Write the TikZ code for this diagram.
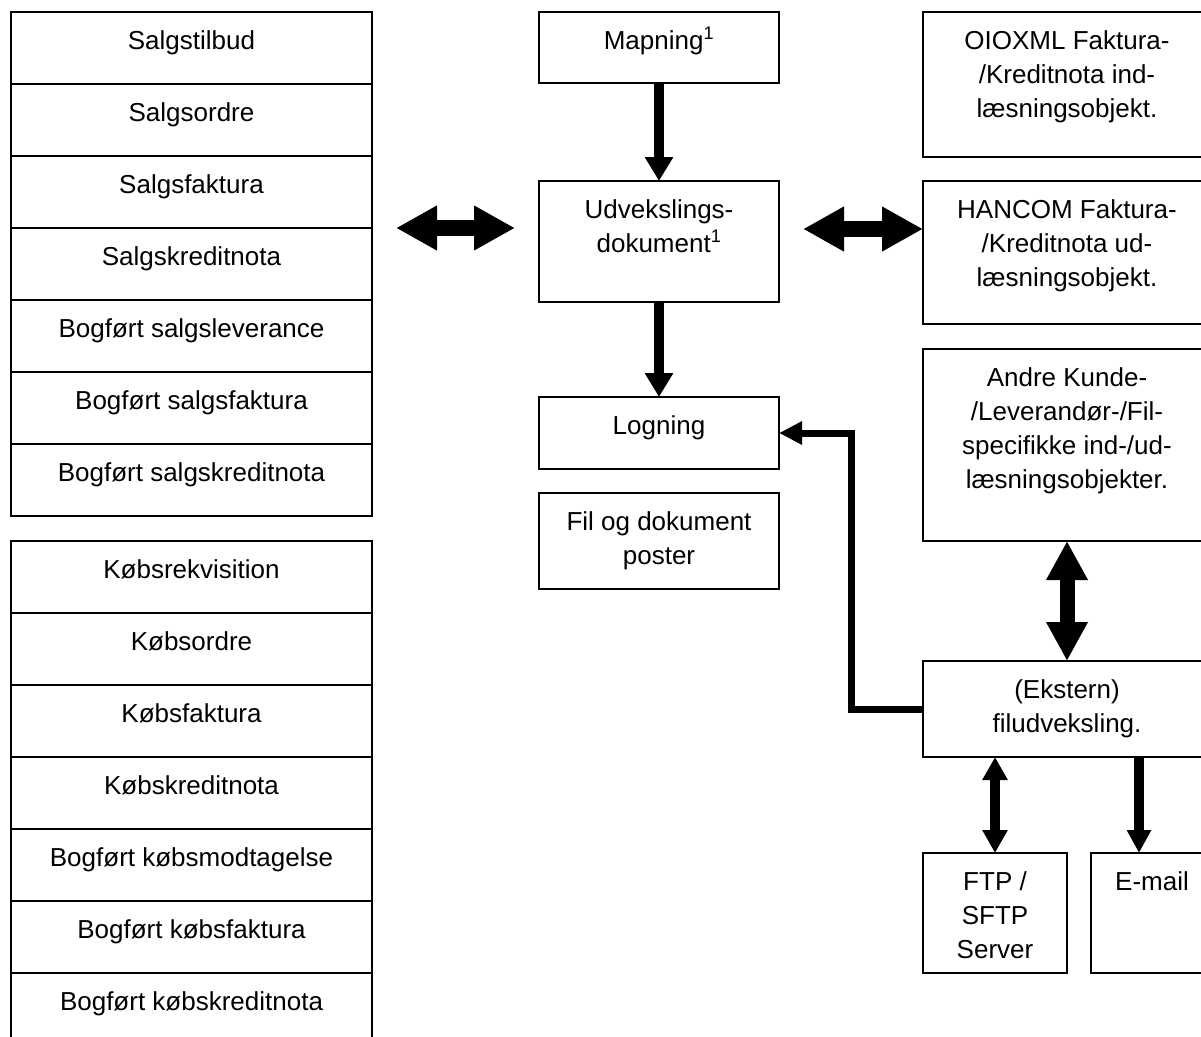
\documentclass[tikz,border=0pt]{standalone}
\usepackage{fontspec}
\setmainfont{Liberation Sans}
\usetikzlibrary{arrows.meta}
\newcommand\boxtxt[3]{\begin{minipage}[c][#2][t]{#1}\centering\fontsize{26}{34}\selectfont\rule{0pt}{37pt}#3\end{minipage}}
\tikzset{
  bx/.style={draw, line width=1.2pt, inner sep=0pt, outer sep=0pt},
  singlearrow/.style={line width=10pt, -{Triangle[length=24pt,width=27pt]}},
  smalldbl/.style={line width=10pt, {Triangle[length=23pt,width=24pt]}-{Triangle[length=23pt,width=24pt]}},
  bigdbl/.style={line width=16pt, {Triangle[length=41pt,width=42pt]}-{Triangle[length=41pt,width=42pt]}},
  vertdbl/.style={line width=15pt, {Triangle[length=39pt,width=39pt]}-{Triangle[length=39pt,width=39pt]}},
  elbowarrow/.style={line width=7pt, line join=miter, -{Triangle[length=23pt,width=22pt]}}
}
\begin{document}
\begin{tikzpicture}[x=1pt,y=-1pt]
\useasboundingbox (0,0) rectangle (1201,1036);
\clip (0,0) rectangle (1201,1036);
\fill[white] (0,0) rectangle (1201,1036);
% left top column
\node[bx] (sbud)  at (191.5,48)  {\boxtxt{361pt}{72pt}{Salgstilbud}};
\node[bx] (sord)  at (191.5,120) {\boxtxt{361pt}{72pt}{Salgsordre}};
\node[bx] (sfak)  at (191.5,192) {\boxtxt{361pt}{72pt}{Salgsfaktura}};
\node[bx] (skre)  at (191.5,264) {\boxtxt{361pt}{72pt}{Salgskreditnota}};
\node[bx] (bslev) at (191.5,336) {\boxtxt{361pt}{72pt}{Bogført salgsleverance}};
\node[bx] (bsfak) at (191.5,408) {\boxtxt{361pt}{72pt}{Bogført salgsfaktura}};
\node[bx] (bskre) at (191.5,480) {\boxtxt{361pt}{72pt}{Bogført salgskreditnota}};
% left bottom column
\node[bx] (krek)  at (191.5,577)  {\boxtxt{361pt}{72pt}{Købsrekvisition}};
\node[bx] (kord)  at (191.5,649)  {\boxtxt{361pt}{72pt}{Købsordre}};
\node[bx] (kfak)  at (191.5,721)  {\boxtxt{361pt}{72pt}{Købsfaktura}};
\node[bx] (kkre)  at (191.5,793)  {\boxtxt{361pt}{72pt}{Købskreditnota}};
\node[bx] (bkmod) at (191.5,865)  {\boxtxt{361pt}{72pt}{Bogført købsmodtagelse}};
\node[bx] (bkfak) at (191.5,937)  {\boxtxt{361pt}{72pt}{Bogført købsfaktura}};
\node[bx] (bkkre) at (191.5,1009) {\boxtxt{361pt}{72pt}{Bogført købskreditnota}};
% middle column
\node[bx] (map)  at (659,47.5)  {\boxtxt{240pt}{71pt}{Mapning\textsuperscript{1}}};
\node[bx] (udv)  at (659,241.5) {\boxtxt{240pt}{121pt}{Udvekslings-\\dokument\textsuperscript{1}}};
\node[bx] (log)  at (659,433)   {\boxtxt{240pt}{72pt}{Logning}};
\node[bx] (fil)  at (659,541)   {\boxtxt{240pt}{96pt}{Fil og dokument\\poster}};
% right column
\node[bx] (oio)  at (1067,84.5)  {\boxtxt{288pt}{145pt}{OIOXML Faktura-\\/Kreditnota ind-\\læsningsobjekt.}};
\node[bx] (han)  at (1067,252.5) {\boxtxt{288pt}{143pt}{HANCOM Faktura-\\/Kreditnota ud-\\læsningsobjekt.}};
\node[bx] (andre) at (1067,445)  {\boxtxt{288pt}{192pt}{Andre Kunde-\\/Leverandør-/Fil-\\specifikke ind-/ud-\\læsningsobjekter.}};
\node[bx] (ekst) at (1067,709)   {\boxtxt{288pt}{96pt}{(Ekstern)\\filudveksling.}};
\node[bx] (ftp)  at (995,913)    {\boxtxt{144pt}{120pt}{FTP /\\SFTP\\Server}};
\node[bx] (mail) at (1152,913)   {\boxtxt{122pt}{120pt}{E-mail}};
% connectors
\draw[singlearrow] (map.south) -- (udv.north);
\draw[singlearrow] (udv.south) -- (log.north);
\draw[bigdbl, shorten <=24pt, shorten >=24pt] (sfak.south east) -- (sfak.south east -| udv.west);
\draw[bigdbl, shorten <=24pt] ([yshift=12.5pt]udv.east) -- ([yshift=23.5pt]han.west);
\draw[vertdbl] (andre.south) -- (ekst.north);
\draw[smalldbl] (ekst.south -| ftp.north) -- (ftp.north);
\coordinate (mailtop) at ([xshift=-13pt]mail.north);
\draw[singlearrow, -{Triangle[length=23pt,width=23pt]}] (mailtop |- ekst.south) -- (mailtop);
\draw[elbowarrow] (ekst.west) -- ++(-71.5,0) |- (log.east);
\end{tikzpicture}
\end{document}
